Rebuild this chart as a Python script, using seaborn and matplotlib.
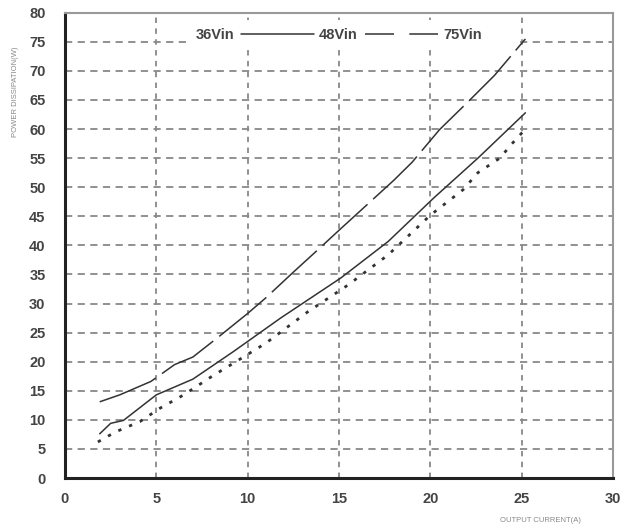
import matplotlib
matplotlib.use("Agg")
import matplotlib.pyplot as plt
import matplotlib.patches as mpatches
import seaborn as sns
import pandas as pd

# Data
x36 = [1.8, 2.75, 4.1, 5.2, 6.5, 8.15, 9.2, 11.0, 13.3, 15.5, 17.7, 20.0, 21.8, 22.6, 23.8, 24.5, 25.2]
y36 = [6.2, 7.9, 9.7, 12.0, 14.3, 17.7, 19.7, 23.2, 28.6, 33.2, 38.4, 45.2, 49.6, 52.5, 55.0, 57.6, 60.0]

x48 = [1.9, 2.5, 3.2, 5.0, 7.0, 9.2, 11.8, 15.1, 17.7, 20.2, 22.6, 25.2]
y48 = [7.6, 9.4, 9.9, 14.3, 17.0, 21.7, 27.5, 34.4, 40.7, 48.2, 55.0, 62.8]

x75 = [1.9, 3.0, 4.7, 6.0, 7.0, 8.5, 10.0, 11.0, 12.5, 14.0, 15.0, 16.5, 18.0, 19.0, 20.5, 22.0, 23.5, 25.2]
y75 = [13.1, 14.3, 16.6, 19.5, 20.8, 24.5, 28.3, 31.0, 35.4, 39.7, 42.6, 46.9, 51.2, 54.3, 59.9, 64.5, 69.2, 75.5]

series_names = ["36Vin", "48Vin", "75Vin"]
x_ticks = [0, 5, 10, 15, 20, 25, 30]
y_ticks = list(range(0, 81, 5))

df = pd.concat([
    pd.DataFrame({"I": x36, "P": y36, "Vin": series_names[0]}),
    pd.DataFrame({"I": x48, "P": y48, "Vin": series_names[1]}),
    pd.DataFrame({"I": x75, "P": y75, "Vin": series_names[2]}),
])

sns.set_theme(style="white")
plt.rcParams['font.family'] = ['Liberation Sans', 'DejaVu Sans']

fig = plt.figure(figsize=(6.34, 5.32), dpi=100)
ax = fig.add_axes([0.1025, 0.1015, 0.8645, 0.8745])

styles = {
    "36Vin": dict(linestyle=(0, (1.2, 3.0)), linewidth=2.0),
    "48Vin": dict(linestyle="-", linewidth=1.1),
    "75Vin": dict(linestyle=(0, (40, 5)), linewidth=1.1),
}
for name in series_names:
    sub = df[df["Vin"] == name]
    sns.lineplot(data=sub, x="I", y="P", ax=ax, color="#333333",
                 label=name, sort=True, **styles[name])

ax.set_xlim(0, 30)
ax.set_ylim(0, 80)
ax.set_xticks(x_ticks)
ax.set_yticks(y_ticks)
ax.tick_params(axis="both", length=0, labelsize=10.5, labelcolor="#444444")
ax.tick_params(axis="x", pad=10)
ax.tick_params(axis="y", pad=14)
for lab in ax.get_xticklabels() + ax.get_yticklabels():
    lab.set_fontweight("bold")

# dashed grid
for xv in x_ticks[1:-1]:
    ax.axvline(xv, color="#888888", linestyle=(0, (3, 3)), linewidth=1.3, zorder=0)
for yv in y_ticks[1:-1]:
    ax.axhline(yv, color="#888888", linestyle=(0, (4, 3)), linewidth=1.3, zorder=0)

for side in ["left", "bottom"]:
    ax.spines[side].set_color("#222222")
    ax.spines[side].set_linewidth(2.2)
for side in ["top", "right"]:
    ax.spines[side].set_color("#999999")
    ax.spines[side].set_linewidth(1.5)

ax.set_xlabel("")
ax.set_ylabel("")
fig.text(0.024, 0.827, "POWER DISSIPATION(W)", rotation=90, fontsize=5.5,
         color="#888888", ha="center", va="center")
fig.text(0.852, 0.022, "OUTPUT CURRENT(A)", fontsize=5.5, color="#888888",
         ha="center", va="center")

# white band behind the legend
ax.add_patch(mpatches.Rectangle((0.229, 0.925), 0.594, 0.06, transform=ax.transAxes,
                                facecolor="white", edgecolor="none", zorder=0.5))

leg = ax.legend(loc="center left", bbox_to_anchor=(0.09, 0.953), ncol=3,
                frameon=False, fontsize=10.5, handlelength=5.0, columnspacing=0.5,
                handletextpad=0.35, borderpad=0.2, borderaxespad=0)
lines = leg.get_lines()
lines[0].set_visible(False)
lines[1].set_linestyle("-")
lines[2].set_linestyle((0, (19, 10)))
for t in leg.get_texts():
    t.set_fontweight("bold")
    t.set_color("#444444")

fig.savefig("out.png", dpi=100, facecolor="white")
